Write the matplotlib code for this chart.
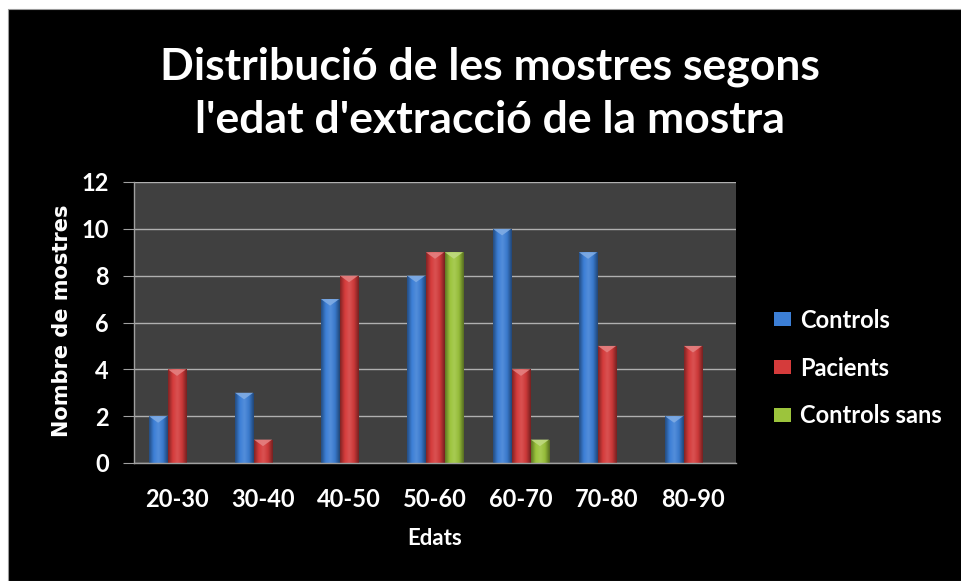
import numpy as np
import matplotlib
matplotlib.use("Agg")
import matplotlib.pyplot as plt
from matplotlib.patches import Rectangle, Polygon
from matplotlib.colors import LinearSegmentedColormap, to_rgb

# ---- data ----
categories = ["20-30", "30-40", "40-50", "50-60", "60-70", "70-80", "80-90"]
controls = [2, 3, 7, 8, 10, 9, 2]
pacients = [4, 1, 8, 9, 4, 5, 5]
controls_sans = [0, 0, 0, 9, 1, 0, 0]
series_names = ["Controls", "Pacients", "Controls sans"]
y_ticks = [0, 2, 4, 6, 8, 10, 12]

title = "Distribució de les mostres segons\nl'edat d'extracció de la mostra"
xlabel = "Edats"
ylabel = "Nombre de mostres"

colors = ["#3c7fd6", "#d53b3b", "#9cc43c"]

FONT = "Lato"

W, H = 962, 581
fig = plt.figure(figsize=(W / 100, H / 100), dpi=100, facecolor="white")

# black background with white margin top/left
fig.patches.append(Rectangle((8 / W, 0), 1, 1 - 9 / H, transform=fig.transFigure,
                             facecolor="black", edgecolor="#9a9a9a", lw=0.8, zorder=-10))

ax = fig.add_axes([134 / W, 1 - 463 / H, (736 - 134) / W, (463 - 182) / H])
ax.set_facecolor("#404040")
for s in ["top", "right"]:
    ax.spines[s].set_visible(False)
ax.spines["left"].set_color("#a0a0a0")
ax.spines["bottom"].set_color("#a0a0a0")
ax.spines["left"].set_linewidth(1.0)
ax.spines["bottom"].set_linewidth(1.0)

ax.set_ylim(0, 12)
ax.set_xlim(-0.5, len(categories) - 0.5)
ax.set_yticks(y_ticks)
ax.set_yticklabels([str(v) for v in y_ticks], fontsize=17, color="white",
                   fontweight="bold", fontfamily=FONT)
ax.set_xticks(range(len(categories)))
ax.set_xticklabels(categories, fontsize=17, color="white", fontweight="bold",
                   fontfamily=FONT)
ax.tick_params(axis="y", length=8, color="#a0a0a0", pad=10)
ax.tick_params(axis="x", length=0, pad=18)
ax.yaxis.grid(True, color="#b0b0b0", lw=1.0)
ax.set_axisbelow(True)

def shade(c, f):
    r = np.array(to_rgb(c))
    if f >= 1:
        return tuple(r + (1 - r) * (f - 1))
    return tuple(r * f)

bw = 0.22
x = np.arange(len(categories))
all_series = [controls, pacients, controls_sans]
for i, (vals, col) in enumerate(zip(all_series, colors)):
    offs = (i - 1) * bw
    bars = ax.bar(x + offs, vals, width=bw * 0.96, color=col, label=series_names[i],
                  zorder=2)
    cmap = LinearSegmentedColormap.from_list(
        "g", [shade(col, 0.6), shade(col, 1.0), shade(col, 1.12), shade(col, 0.95), shade(col, 0.55)])
    grad = np.linspace(0, 1, 64).reshape(1, -1)
    for b in bars:
        h = b.get_height()
        if h <= 0:
            continue
        x0, w = b.get_x(), b.get_width()
        im = ax.imshow(grad, cmap=cmap, aspect="auto", extent=(x0, x0 + w, 0, h),
                       zorder=2.5, interpolation="bicubic")
        im.set_clip_path(b)
        th = 0.28
        tri = Polygon([(x0, h), (x0 + w, h), (x0 + w / 2, h - th)], closed=True,
                      facecolor=shade(col, 1.35), edgecolor="none", zorder=3, alpha=0.9)
        ax.add_patch(tri)

ax.set_xlim(-0.5, len(categories) - 0.5)
ax.set_ylim(0, 12)

# axis labels
ax.set_xlabel(xlabel, fontsize=16, color="white", fontweight="bold", fontfamily=FONT,
              labelpad=12)
fig.text(62 / W, 1 - 321 / H, ylabel, rotation=90, fontsize=15, color="white",
         fontweight="bold", fontfamily="DejaVu Sans", ha="center", va="center")

# title
fig.text(490 / W, 1 - 93 / H, title, fontsize=32, color="white", fontweight="bold",
         fontfamily=FONT, ha="center", va="center", linespacing=1.4)

# legend
leg = ax.legend(loc="center left", frameon=False, fontsize=17, handlelength=0.7,
                handleheight=0.55, labelspacing=1.05, handletextpad=0.4)
leg.set_bbox_to_anchor((753 / W, 1 - 368 / H), transform=fig.transFigure)
for t in leg.get_texts():
    t.set_color("white")
    t.set_fontweight("bold")
    t.set_fontfamily(FONT)

fig.savefig("out.png", dpi=100, facecolor="white")
